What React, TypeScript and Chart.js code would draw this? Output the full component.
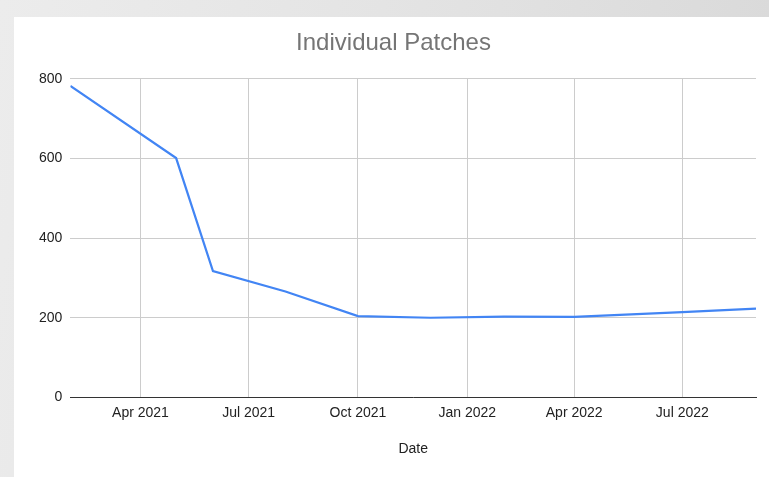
import { useEffect, useRef } from "react";
import { Chart, registerables } from "chart.js";

Chart.register(...registerables);

// Data
const dates = [
  "2021-02-01",
  "2021-05-01",
  "2021-06-01",
  "2021-08-01",
  "2021-10-01",
  "2021-12-01",
  "2022-02-01",
  "2022-04-01",
  "2022-07-01",
  "2022-09-01",
];
const patches = [782, 601, 317, 266, 204, 200, 203, 202, 214, 223];

const xTickDates = [
  "2021-04-01",
  "2021-07-01",
  "2021-10-01",
  "2022-01-01",
  "2022-04-01",
  "2022-07-01",
];
const xTickLabels = ["Apr 2021", "Jul 2021", "Oct 2021", "Jan 2022", "Apr 2022", "Jul 2022"];
const xRange = ["2021-02-01", "2022-09-01"];
const yTicks = [0, 200, 400, 600, 800];

const toDay = (s: string) => Date.parse(s + "T00:00:00Z") / 86400000;

const FONT = "'Liberation Sans', Arial, sans-serif";

export default function App() {
  const ref = useRef<HTMLCanvasElement | null>(null);

  useEffect(() => {
    if (!ref.current) return;
    const tickDays = xTickDates.map(toDay);
    const chart = new Chart(ref.current, {
      type: "line",
      data: {
        datasets: [
          {
            label: "Individual Patches",
            data: dates.map((d, i) => ({ x: toDay(d), y: patches[i] })),
            borderColor: "#4285f4",
            backgroundColor: "#4285f4",
            borderWidth: 2.2,
            pointRadius: 0,
            tension: 0,
          },
        ],
      },
      options: {
        animation: false,
        responsive: false,
        devicePixelRatio: 1,
        layout: { padding: { left: 17, right: 13, top: 0, bottom: 19 } },
        plugins: {
          legend: { display: false },
          tooltip: { enabled: false },
          title: {
            display: true,
            text: "Individual Patches",
            color: "#757575",
            font: { family: FONT, size: 24, weight: "normal" },
            padding: { top: 12, bottom: 21 },
          },
        },
        scales: {
          x: {
            type: "linear",
            min: toDay(xRange[0]),
            max: toDay(xRange[1]),
            afterBuildTicks: (axis: any) => {
              axis.ticks = tickDays.map((v) => ({ value: v }));
            },
            ticks: {
              color: "#222222",
              font: { family: FONT, size: 14 },
              padding: 7,
              maxRotation: 0,
              autoSkip: false,
              callback: (v: any) => {
                const i = tickDays.indexOf(Number(v));
                return i >= 0 ? xTickLabels[i] : "";
              },
            },
            grid: { color: "#cccccc", drawTicks: false, lineWidth: 1 },
            border: { display: true, color: "#333333", width: 1 },
            title: {
              display: true,
              text: "Date",
              color: "#222222",
              font: { family: FONT, size: 14 },
              padding: { top: 13, bottom: 0 },
            },
          },
          y: {
            min: 0,
            max: 800,
            afterBuildTicks: (axis: any) => {
              axis.ticks = yTicks.map((v) => ({ value: v }));
            },
            ticks: {
              color: "#222222",
              font: { family: FONT, size: 14 },
              padding: 8,
            },
            grid: { color: "#cccccc", drawTicks: false, lineWidth: 1 },
            border: { display: false },
          },
        },
      },
    });
    return () => chart.destroy();
  }, []);

  return (
    <div
      style={{
        position: "fixed",
        left: 0,
        top: 0,
        width: 769,
        height: 477,
        overflow: "hidden",
        background: "linear-gradient(100deg, #ececec 0%, #e4e4e4 45%, #d8d8d8 100%)",
      }}
    >
      <canvas
        ref={ref}
        width={755}
        height={460}
        style={{ position: "absolute", left: 14, top: 17, width: 755, height: 460, background: "#ffffff" }}
      />
    </div>
  );
}
